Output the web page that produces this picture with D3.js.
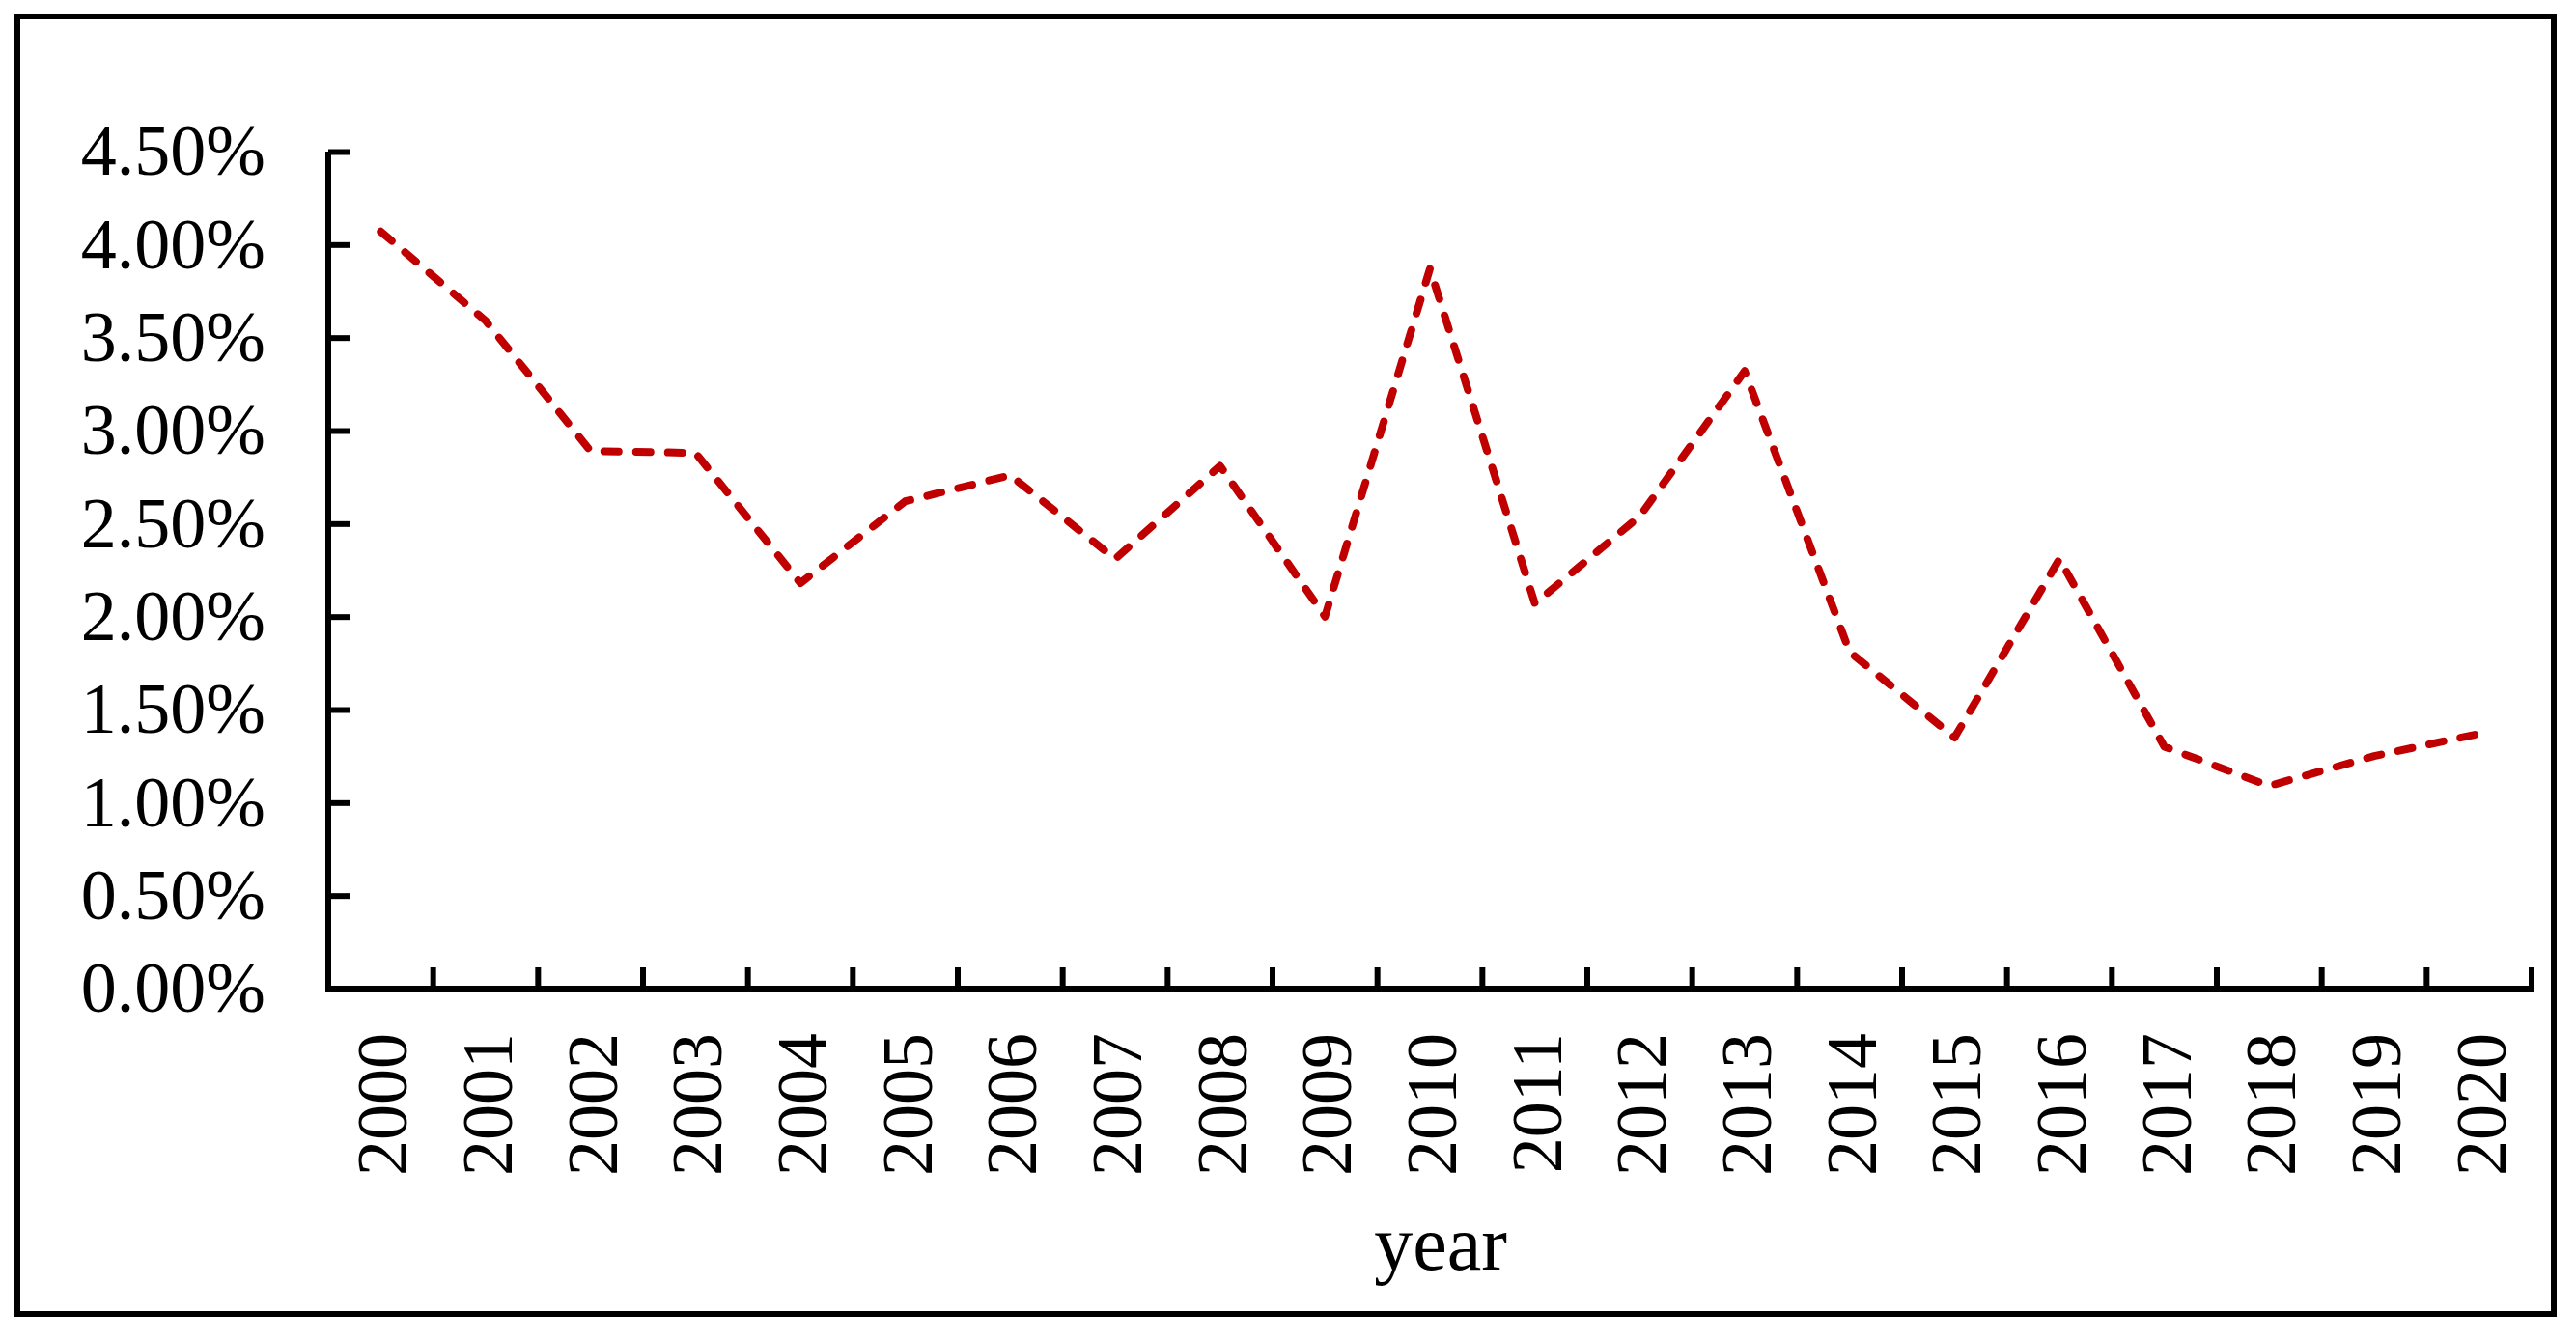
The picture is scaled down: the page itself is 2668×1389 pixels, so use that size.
<!DOCTYPE html>
<html>
<head>
<meta charset="utf-8">
<script src="https://cdn.jsdelivr.net/npm/d3@7"></script>
<style>
  html, body { margin: 0; padding: 0; background: #fff; }
  svg { display: block; }
  text { font-family: "Liberation Serif", "Times New Roman", serif; fill: #000; }
</style>
</head>
<body>
<svg id="chart" width="2668" height="1389"></svg>
<script>
const years = ["2000","2001","2002","2003","2004","2005","2006","2007","2008","2009","2010",
               "2011","2012","2013","2014","2015","2016","2017","2018","2019","2020"];
const rates = [0.0407, 0.0359, 0.0289, 0.0288, 0.0218, 0.0262, 0.0276, 0.0231, 0.0281, 0.0200, 0.0387,
               0.0207, 0.0254, 0.0332, 0.0181, 0.0135, 0.0231, 0.0130, 0.0109, 0.0125, 0.0137];
const yTicks = [0, 0.005, 0.01, 0.015, 0.02, 0.025, 0.03, 0.035, 0.04, 0.045];
const xTitle = "year";

const W = 2668, H = 1389;
const plot = { left: 340, right: 2622, top: 157, bottom: 1024 };

const svg = d3.select("#chart");
svg.append("rect").attr("x", 0).attr("y", 0).attr("width", W).attr("height", H).attr("fill", "#fff");

// outer frame
svg.append("rect")
  .attr("x", 18).attr("y", 17).attr("width", 2645 - 18).attr("height", 1361 - 17)
  .attr("fill", "none").attr("stroke", "#000").attr("stroke-width", 6);

const x = d3.scaleBand().domain(years).range([plot.left, plot.right]).padding(0);
const y = d3.scaleLinear().domain([0, 0.045]).range([plot.bottom, plot.top]);
const bw = x.bandwidth();

// Y axis (ticks inside)
const yAxis = d3.axisLeft(y)
  .tickValues(yTicks)
  .tickSize(-22)
  .tickPadding(65)
  .tickFormat(d3.format(".2%"));
const gy = svg.append("g").attr("transform", `translate(${plot.left},0)`).call(yAxis);
gy.select(".domain").attr("stroke", "#000").attr("stroke-width", 6)
  .attr("d", `M0,${plot.top}V${plot.bottom + 3}`);
gy.selectAll(".tick line").attr("stroke", "#000").attr("stroke-width", 6);
gy.selectAll(".tick text")
  .attr("font-family", "Liberation Serif, Times New Roman, serif")
  .attr("font-size", 74).attr("fill", "#000");

// X axis: baseline + boundary ticks (inside)
const gx = svg.append("g");
gx.append("line")
  .attr("x1", plot.left - 3).attr("x2", plot.right + 3)
  .attr("y1", plot.bottom).attr("y2", plot.bottom)
  .attr("stroke", "#000").attr("stroke-width", 6);
const bounds = years.map(d => x(d)).concat([x.range()[1]]);
gx.selectAll("line.xt").data(bounds.slice(1)).enter().append("line")
  .attr("class", "xt")
  .attr("x1", d => d).attr("x2", d => d)
  .attr("y1", plot.bottom).attr("y2", plot.bottom - 22)
  .attr("stroke", "#000").attr("stroke-width", 6);

// X labels, rotated
gx.selectAll("text.xl").data(years).enter().append("text")
  .attr("class", "xl")
  .attr("transform", d => `translate(${x(d) + bw / 2 + 27},${1070}) rotate(-90)`)
  .attr("text-anchor", "end")
  .attr("font-size", 74)
  .text(d => d);

// X title
svg.append("text")
  .attr("x", 1492).attr("y", 1315)
  .attr("text-anchor", "middle")
  .attr("font-size", 80)
  .text(xTitle);

// Line
const data = years.map((yr, i) => ({ yr, v: rates[i] }));
const line = d3.line().x(d => x(d.yr) + bw / 2).y(d => y(d.v));
svg.append("path")
  .datum(data)
  .attr("d", line)
  .attr("fill", "none")
  .attr("stroke", "#C00000")
  .attr("stroke-width", 8)
  .attr("stroke-dasharray", "15,18")
  .attr("stroke-linecap", "round")
  .attr("stroke-linejoin", "round");
</script>
</body>
</html>
